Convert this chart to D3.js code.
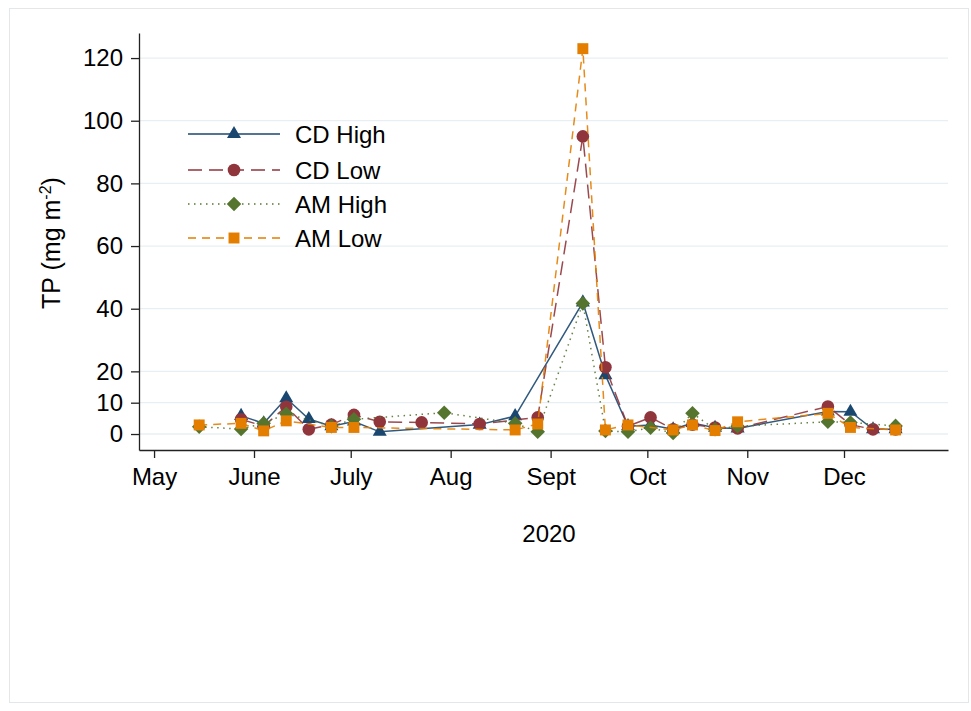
<!DOCTYPE html>
<html>
<head>
<meta charset="utf-8">
<script src="https://cdn.jsdelivr.net/npm/d3@7"></script>
<style>
  html, body { margin: 0; padding: 0; background: #fff; }
  svg { display: block; font-family: "Liberation Sans", Arial, Helvetica, sans-serif; }
</style>
</head>
<body>
<svg id="chart" width="971" height="711"></svg>
<script>
// Sampling dates (2020) shared by all four series; null = not sampled
const sampleDates = [
  "2020-05-15","2020-05-28","2020-06-04","2020-06-11","2020-06-18","2020-06-25",
  "2020-07-02","2020-07-10","2020-07-23","2020-07-30","2020-08-10","2020-08-21",
  "2020-08-28","2020-09-11","2020-09-18","2020-09-25","2020-10-02","2020-10-09",
  "2020-10-15","2020-10-22","2020-10-29","2020-11-26","2020-12-03","2020-12-10",
  "2020-12-17"
];

// TP (mg m-2)
const cdHigh = [null, 5.8, 3.4, 11.4, 4.8, 2.5, 4.0, 0.7, null, null, 3.0, 5.7,
                null, 42, 18.8, 2.5, 2.9, 1.5, 3.5, 2.0, 1.8, 7.2, 7.1, 1.5, 1.5];
const cdLow  = [null, 4.7, 2.5, 8.7, 1.5, 3.0, 6.1, 3.9, 3.7, null, 3.2, null,
                5.3, 95, 21.3, 2.5, 5.3, 1.5, 3.0, 2.1, 1.8, 8.8, 3.0, 1.5, 1.5];
const amHigh = [2.3, 1.6, 3.4, 6.5, null, 2.5, 4.7, null, null, 6.8, null, 3.4,
                0.7, 41.7, 1.0, 0.7, 2.0, 0.3, 6.6, 1.5, 2.5, 3.9, 3.7, null, 2.6];
const amLow  = [2.9, 3.4, 1.0, 4.2, null, 2.1, 2.1, null, null, null, null, 1.3,
                3.2, 123, 1.3, 2.9, null, 1.3, 2.9, 1.1, 3.9, 6.6, 2.1, null, 1.3];

const seriesNames = ["CD High", "CD Low", "AM High", "AM Low"];
const seriesValues = [cdHigh, cdLow, amHigh, amLow];
const seriesColors = ["#1a476f", "#90353b", "#55752f", "#e37e00"];
const seriesDash = [null, "14,7", "1.5,4.5", "8,6"];
const seriesSymbols = [d3.symbolTriangle, d3.symbolCircle, d3.symbolDiamond2, d3.symbolSquare];
const symbolSizes = [85, 125, 135, 120];

const monthTicks = ["2020-05-01","2020-06-01","2020-07-01","2020-08-01",
                    "2020-09-01","2020-10-01","2020-11-01","2020-12-01"];
const monthLabels = ["May","June","July","Aug","Sept","Oct","Nov","Dec"];
const yTicks = [0, 10, 20, 40, 60, 80, 100, 120];

const svg = d3.select("#chart");
const parse = d3.utcParse("%Y-%m-%d");

// Outer frame
svg.append("rect")
  .attr("x", 9.5).attr("y", 8.5).attr("width", 959).attr("height", 694)
  .attr("fill", "#fff").attr("stroke", "#e3e7ea").attr("stroke-width", 1);

const plotLeft = 139, plotRight = 948, plotTop = 33, plotBottom = 450;

// Time scale anchored on month starts, then widened to the axis extent
const x = d3.scaleUtc()
  .domain([parse("2020-06-01"), parse("2020-12-01")])
  .range([254, 844]);
x.domain([x.invert(plotLeft), x.invert(plotRight)]).range([plotLeft, plotRight]);

const y = d3.scaleLinear().domain([-5.1, 128]).range([plotBottom, plotTop]);

// Gridlines
svg.append("g")
  .selectAll("line")
  .data(yTicks)
  .join("line")
  .attr("x1", plotLeft).attr("x2", plotRight)
  .attr("y1", d => y(d)).attr("y2", d => y(d))
  .attr("stroke", "#e8eff2").attr("stroke-width", 1.3);

// Y axis
const yAxis = svg.append("g")
  .attr("transform", `translate(${plotLeft},0)`)
  .call(d3.axisLeft(y).tickValues(yTicks).tickSize(8).tickPadding(8).tickSizeOuter(0));
yAxis.select(".domain").attr("stroke", "#222").attr("stroke-width", 1.3);
yAxis.selectAll(".tick line").attr("stroke", "#222").attr("stroke-width", 1.3);
yAxis.selectAll(".tick text")
  .attr("font-size", 24).attr("fill", "#000")
  .attr("font-family", "Liberation Sans, Arial, sans-serif");

// X axis
const xAxis = svg.append("g")
  .attr("transform", `translate(0,${plotBottom})`)
  .call(d3.axisBottom(x)
    .tickValues(monthTicks.map(parse))
    .tickFormat((d, i) => monthLabels[i])
    .tickSize(8).tickPadding(10).tickSizeOuter(0));
xAxis.select(".domain").attr("stroke", "#222").attr("stroke-width", 1.3);
xAxis.selectAll(".tick line").attr("stroke", "#222").attr("stroke-width", 1.3);
xAxis.selectAll(".tick text")
  .attr("font-size", 24).attr("fill", "#000")
  .attr("font-family", "Liberation Sans, Arial, sans-serif");

// Axis titles
svg.append("text")
  .attr("x", 549).attr("y", 542)
  .attr("text-anchor", "middle")
  .attr("font-size", 24)
  .text("2020");

const yTitle = svg.append("text")
  .attr("transform", "translate(60,243) rotate(-90)")
  .attr("text-anchor", "middle")
  .attr("font-size", 25);
yTitle.append("tspan").text("TP (mg m");
yTitle.append("tspan").attr("font-size", 16).attr("dy", -9).text("-2");
yTitle.append("tspan").attr("dy", 9).text(")");

// Series: line then markers, drawn in legend order
const line = d3.line().x(d => x(d.date)).y(d => y(d.value));

seriesValues.forEach((vals, i) => {
  const pts = vals
    .map((v, j) => ({ date: parse(sampleDates[j]), value: v }))
    .filter(d => d.value !== null);
  const g = svg.append("g");
  g.append("path")
    .datum(pts)
    .attr("d", line)
    .attr("fill", "none")
    .attr("stroke", seriesColors[i])
    .attr("stroke-width", 1.5)
    .attr("stroke-opacity", 0.9)
    .attr("stroke-dasharray", seriesDash[i]);
  g.selectAll("path.mk")
    .data(pts)
    .join("path")
    .attr("class", "mk")
    .attr("transform", d => `translate(${x(d.date)},${y(d.value)})`)
    .attr("d", d3.symbol().type(seriesSymbols[i]).size(symbolSizes[i]))
    .attr("fill", seriesColors[i]);
});

// Legend
const legendRows = [134, 170, 204, 238];
const legend = svg.append("g");
seriesNames.forEach((name, i) => {
  const ly = legendRows[i];
  legend.append("line")
    .attr("x1", 188).attr("x2", 280).attr("y1", ly).attr("y2", ly)
    .attr("stroke", seriesColors[i]).attr("stroke-width", 1.5)
    .attr("stroke-dasharray", seriesDash[i]);
  legend.append("path")
    .attr("transform", `translate(234,${ly})`)
    .attr("d", d3.symbol().type(seriesSymbols[i]).size(symbolSizes[i]))
    .attr("fill", seriesColors[i]);
  legend.append("text")
    .attr("x", 295).attr("y", ly + 8.5)
    .attr("font-size", 24)
    .text(name);
});
</script>
</body>
</html>
